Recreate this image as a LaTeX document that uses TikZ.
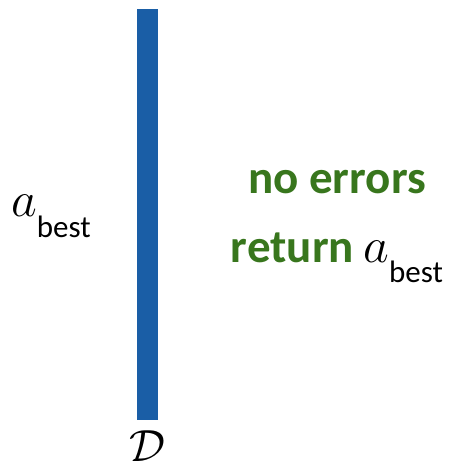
\documentclass[tikz,border=0pt]{standalone}
\usepackage{fix-cm}
\usepackage{fontspec}
\setmainfont{Carlito}
\usetikzlibrary{positioning}
\definecolor{barblue}{RGB}{26,94,166}
\definecolor{okgreen}{RGB}{56,118,29}
\newcommand{\abest}{{\fontsize{50bp}{55bp}\selectfont$a$}\raisebox{-20bp}{\fontsize{31bp}{40bp}\selectfont best}}

\begin{document}
\begin{tikzpicture}[x=1bp,y=-1bp,
  lbl/.style={inner sep=0pt,font=\fontsize{42bp}{50bp}\selectfont},
  ok/.style={lbl,text=okgreen,font=\fontsize{47bp}{55bp}\selectfont\bfseries},
  bar/.style={fill=barblue,inner sep=0pt,minimum width=21bp,minimum height=411bp}]
  \useasboundingbox (0,0) rectangle (449,468);
  \node[bar] (bar) at (147.5,214.5) {};
  \node[lbl,anchor=base west] (left) at (11,217) {\abest};
  \node[ok,anchor=base] (noerr) at (337,194) {no errors};
  \node[lbl,anchor=base] (ret) at (337,262) {{\color{okgreen}\fontsize{47bp}{55bp}\selectfont\bfseries return} \abest};
  \node[lbl,font=\fontsize{45bp}{50bp}\selectfont,below=10bp of bar] (dset) {$\mathcal{D}$};
\end{tikzpicture}
\end{document}
